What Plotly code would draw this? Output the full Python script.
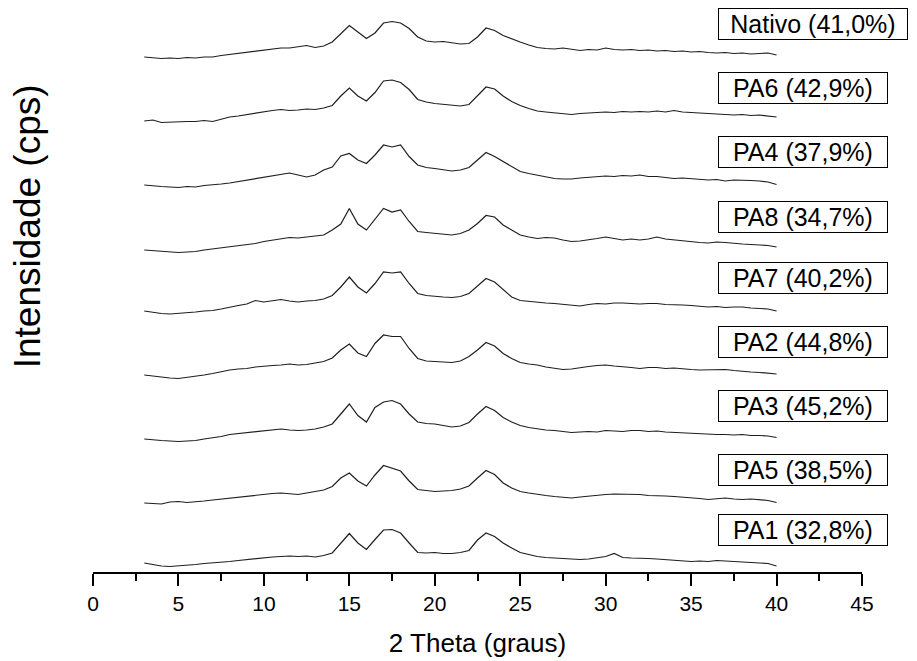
import plotly.graph_objects as go

# ── Data ──────────────────────────────────────────────────────────────────────

two_theta = [3.0, 3.5, 4.0, 4.5, 5.0, 5.5, 6.0, 6.5, 7.0, 7.5, 8.0, 8.5, 9.0, 9.5,
             10.0, 10.5, 11.0, 11.5, 12.0, 12.5, 13.0, 13.5, 14.0, 14.5, 15.0, 15.5,
             16.0, 16.5, 17.0, 17.5, 18.0, 18.5, 19.0, 19.5, 20.0, 20.5, 21.0, 21.5,
             22.0, 22.5, 23.0, 23.5, 24.0, 24.5, 25.0, 25.5, 26.0, 26.5, 27.0, 27.5,
             28.0, 28.5, 29.0, 29.5, 30.0, 30.5, 31.0, 31.5, 32.0, 32.5, 33.0, 33.5,
             34.0, 34.5, 35.0, 35.5, 36.0, 36.5, 37.0, 37.5, 38.0, 38.5, 39.0, 39.5, 40.0]

# intensities (a.u.) above each pattern's own baseline
int_nativo = [0, -0.5, -1.5, -1, -1.5, -0.5, -1, 0, 0, 1.5, 2.5, 4, 5, 5.5,
              6.5, 7.5, 9, 9, 10.5, 11.5, 9.5, 11, 15, 23, 31.5, 25,
              18.5, 24, 34, 35.5, 34, 28.5, 20, 16, 15, 15.5, 14.5, 13,
              13.5, 20, 29, 26.5, 21.5, 18, 15, 12, 9.5, 8.5, 8, 9,
              7.5, 6.5, 7.5, 7, 9, 7.5, 7, 7.5, 6.5, 7, 6, 6.5,
              5.5, 6, 5, 5.5, 4.5, 4, 4.5, 3.5, 4, 3, 3.5, 4, 2]
int_pa6 = [0, 1, -1.5, -1, -1, -0.5, -0.5, 0.5, -0.5, 2, 4, 5, 6.5, 8,
           9.5, 10.5, 11.5, 10.5, 11, 12, 11.5, 13, 15.5, 25, 33, 25,
           20, 28.5, 40, 41, 38.5, 31.5, 21.5, 19, 17.5, 16.5, 15.5, 15,
           16.5, 25, 34, 32, 25, 19.5, 15.5, 12.5, 10, 9, 8, 7,
           6.5, 7.5, 8, 8.5, 9, 8.5, 9.5, 9, 9.5, 9, 10, 9,
           10.5, 9, 8.5, 8, 7.5, 7, 6.5, 6, 6.5, 5.5, 6, 5, 4]
int_pa4 = [0, -1, -1.5, -2, -2.5, -1.5, -2, -0.5, 0, 1, 2, 3.5, 5, 6,
           7.5, 9, 10.5, 12, 10, 8, 10, 15, 18, 29, 31.5, 25,
           21.5, 30, 40, 38, 40, 28.5, 20, 17.5, 16.5, 15, 14, 15,
           17.5, 25, 32.5, 28.5, 23.5, 19, 13.5, 11.5, 10, 8, 6.5, 6,
           6, 7, 7.5, 8.5, 9, 8.5, 9.5, 9, 10, 8.5, 8.5, 7.5,
           6.5, 7, 6.5, 5.5, 5, 5.5, 4, 5, 5, 4.5, 4, 3, 0.5]
int_pa8 = [0, -0.5, -1, -2, -2.5, -2, -1.5, 0, 1, 2, 3.5, 4, 5, 6.5,
           8.5, 10, 11.5, 12.5, 12, 13, 13.5, 15, 20, 26, 41.5, 26,
           20, 31, 41.5, 38, 40, 28.5, 18.5, 17.5, 16.5, 16, 15, 16.5,
           20, 26.5, 34.5, 33, 25, 20, 15, 13, 11.5, 12.5, 12, 10,
           8.5, 9, 10, 11.5, 13, 11.5, 10, 11, 10, 11, 13, 11,
           10, 9, 8.5, 7.5, 7, 8, 7.5, 6.5, 6, 5.5, 5, 4.5, 3]
int_pa7 = [0, -1.5, -2.5, -3, -2.5, -2, -1, 0, 0.5, 2, 4, 5.5, 7, 10.5,
           9, 10, 11.5, 10, 9, 10, 10.5, 12, 15.5, 24, 34, 24,
           18, 27.5, 39, 38, 39, 27.5, 17.5, 15.5, 14.5, 14, 13.5, 14.5,
           17.5, 25.5, 32.5, 29, 21, 14, 10.5, 9.5, 9, 8, 7.5, 6.5,
           5.5, 5, 6.5, 7.5, 7, 8, 8, 7.5, 7, 7.5, 7.5, 6.5,
           6.5, 6, 5.5, 5, 4, 4.5, 3.5, 4, 4, 3, 2.5, 2, 0]
int_pa2 = [0, -1, -2.5, -3, -3.5, -2.5, -1.5, 0, 1.5, 3.5, 5, 6, 6.5, 8,
           9, 9.5, 10, 11, 10, 10.5, 12, 13.5, 17, 25, 31, 22,
           18.5, 31.5, 40, 38.5, 38.5, 26.5, 16.5, 14, 13.5, 13, 12.5, 14,
           18.5, 25, 32.5, 29, 21.5, 16.5, 12.5, 11, 10, 8, 6.5, 5.5,
           6, 7.5, 8.5, 9.5, 10, 9, 8.5, 7.5, 6.5, 7.5, 7.5, 6.5,
           7, 6, 5.5, 5, 5, 5.5, 5.5, 4.5, 3.5, 3, 2.5, 2, 1]
int_pa3 = [0, -1, -1.5, -2, -2.5, -2, -1.5, 0, 1, 2.5, 4.5, 5.5, 6.5, 7.5,
           8.5, 9, 10, 9, 8.5, 9, 10, 12, 15, 25, 35, 23.5,
           17, 31.5, 37, 38.5, 35, 25, 17, 15.5, 15, 13.5, 12, 13,
           16.5, 25, 32.5, 28.5, 21.5, 17, 13.5, 11.5, 10, 9, 8.5, 7.5,
           6.5, 7, 7.5, 7, 8.5, 8, 7.5, 8.5, 8.5, 7.5, 8, 7,
           6.5, 6, 6, 5.5, 5, 4.5, 4.5, 4, 4.5, 3.5, 3.5, 3, 1.5]
int_pa5 = [0, -0.5, -1, 1, 1.5, 0.5, 1, 2, 3, 4, 5, 6, 6.5, 8,
           9, 9.5, 10, 9, 8.5, 10, 11.5, 13, 16.5, 25, 30, 22,
           17, 28, 37.5, 35, 32, 22, 13.5, 12.5, 11.5, 12, 12.5, 14,
           17, 25, 32.5, 28.5, 20, 15, 11.5, 10, 8.5, 7.5, 6.5, 5.5,
           5, 6, 7, 7.5, 8.5, 9, 9, 8.5, 8.5, 7.5, 7.5, 7,
           6.5, 6, 5, 4.5, 3.5, 4.5, 5, 4, 3.5, 4, 3.5, 2.5, 0.5]
int_pa1 = [0, -1.5, -3, -3.5, -3, -2.5, -1.5, -0.5, 0, 1, 1.5, 2.5, 3.5, 4,
           5, 6, 6.5, 7, 6.5, 7, 6, 7.5, 10, 20, 29.5, 20,
           13.5, 23.5, 33, 33.5, 30, 20, 10.5, 10, 10.5, 9.5, 9.5, 10.5,
           12.5, 23, 30, 26.5, 20, 15, 10.5, 8.5, 6.5, 5.5, 5, 4,
           3.5, 3.5, 4, 5, 6.5, 9.5, 5.5, 5, 5, 4.5, 4, 3.5,
           3, 2.5, 1.5, 2, 1.5, 2.5, 2, 1.5, 1, 0.5, 0.5, -0.5, -3]

sample_names = ["Nativo (41,0%)", "PA6 (42,9%)", "PA4 (37,9%)", "PA8 (34,7%)",
                "PA7 (40,2%)", "PA2 (44,8%)", "PA3 (45,2%)", "PA5 (38,5%)", "PA1 (32,8%)"]
sample_series = [int_nativo, int_pa6, int_pa4, int_pa8, int_pa7,
                 int_pa2, int_pa3, int_pa5, int_pa1]

# vertical stacking offset of each pattern
stack_offsets = [515, 451, 387, 322, 261, 197, 133, 69, 9]


# ── Figure ────────────────────────────────────────────────────────────────────

fig = go.Figure()

for name, vals, off in zip(sample_names, sample_series, stack_offsets):
    fig.add_trace(go.Scatter(
        x=two_theta, y=[v + off for v in vals], mode="lines", name=name,
        line=dict(color="#1e1e1e", width=1.2), showlegend=False
    ))
    fig.add_annotation(
        x=0.8127, y=off + 33, xref="paper", yref="y",
        xanchor="left", yanchor="middle",
        text=name, showarrow=False,
        font=dict(family="Liberation Sans, Arial", size=25, color="black"),
        bgcolor="white", bordercolor="black", borderwidth=1, borderpad=0,
        width=188 if name.startswith("Nativo") else 168, height=30, align="center"
    )

fig.add_annotation(
    x=-0.0858, y=0.613, xref="paper", yref="paper",
    text="Intensidade (cps)", textangle=-90, showarrow=False,
    xanchor="center", yanchor="middle",
    font=dict(family="Liberation Sans, Arial", size=37, color="black")
)

fig.update_layout(
    width=917, height=661,
    margin=dict(l=85, r=63, t=0, b=97),
    plot_bgcolor="white", paper_bgcolor="white",
    xaxis=dict(
        range=[0, 45], dtick=5, tick0=0,
        showline=True, linecolor="black", linewidth=1.5,
        ticks="outside", ticklen=12, tickwidth=1.5, tickcolor="black",
        minor=dict(dtick=2.5, ticks="outside", ticklen=7, tickwidth=1.5, tickcolor="black"),
        showgrid=False, zeroline=False,
        tickfont=dict(family="Liberation Sans, Arial", size=21, color="black"),
        title=dict(text="2 Theta (graus)", standoff=20,
                   font=dict(family="Liberation Sans, Arial", size=26, color="black")),
    ),
    yaxis=dict(range=[0, 564], visible=False),
)

fig.write_html("out.html")
